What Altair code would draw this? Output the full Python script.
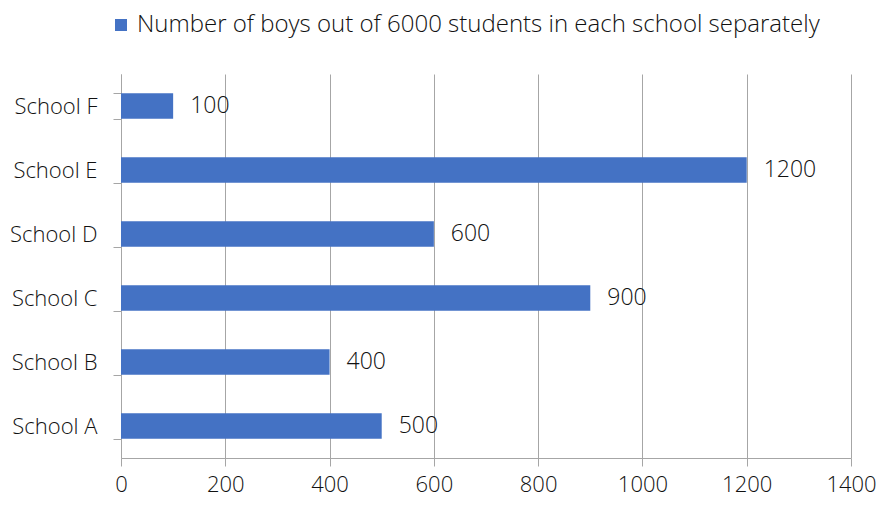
import altair as alt
import pandas as pd

schools = ["School A", "School B", "School C", "School D", "School E", "School F"]
boys = [500, 400, 900, 600, 1200, 100]
series_name = "Number of boys out of 6000 students in each school separately"

df = pd.DataFrame({"school": schools, "boys": boys, "series": [series_name] * len(schools)})

order = list(reversed(schools))
FONT = "Open Sans"
TXT = "#111111"
GRID = "#a6a6a6"
FS = 22

y = alt.Y("school:N", sort=order, title=None,
          scale=alt.Scale(paddingInner=0.6, paddingOuter=0.3),
          axis=alt.Axis(tickBand="extent", tickSize=8, tickColor=GRID, domainColor=GRID,
                        labelFontSize=FS, labelFont=FONT, labelColor=TXT, labelPadding=16,
                        labelFontWeight=300, grid=False))
x = alt.X("boys:Q", title=None,
          scale=alt.Scale(domain=[0, 1400], nice=False),
          axis=alt.Axis(values=[0, 200, 400, 600, 800, 1000, 1200, 1400], tickSize=8,
                        format="d", labelFlush=False, labelOverlap=False,
                        tickColor=GRID, domainColor=GRID, gridColor=GRID, grid=True,
                        labelFontSize=FS, labelFont=FONT, labelColor=TXT, labelPadding=8,
                        labelFontWeight=300))

bars = alt.Chart(df).mark_bar(color="#4472C4").encode(
    x=x, y=y,
    color=alt.Color("series:N", scale=alt.Scale(range=["#4472C4"]), title=None,
                    legend=alt.Legend(orient="none", legendX=-12, legendY=-61,
                                      symbolType="square", symbolSize=144,
                                      symbolStrokeWidth=0, symbolFillColor="#4472C4",
                                      labelFontSize=24, labelFont=FONT, labelColor=TXT,
                                      labelFontWeight=300, labelLimit=900, padding=0,
                                      labelOffset=4))
)
labels = alt.Chart(df).mark_text(align="left", baseline="middle", dx=17, fontSize=23,
                                 font=FONT, color=TXT, fontWeight=300).encode(
    x="boys:Q", y=alt.Y("school:N", sort=order), text="boys:Q")

chart = alt.layer(bars, labels).properties(
    width=730, height=384,
    autosize=alt.AutoSizeParams(type="none"),
    padding={"left": 113, "top": 66, "right": 26, "bottom": 42},
).configure_view(stroke=None)

chart.save("out.html", embed_options={"renderer": "svg", "actions": False})
